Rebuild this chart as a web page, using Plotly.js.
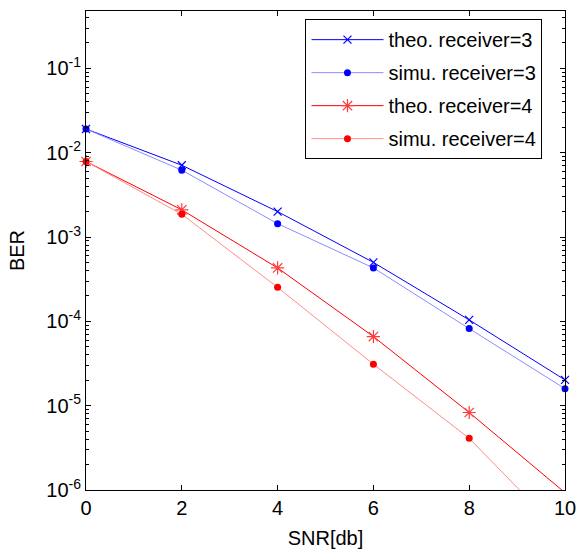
<!DOCTYPE html>
<html>
<head>
<meta charset="utf-8">
<script src="https://cdn.plot.ly/plotly-3.0.1.min.js"></script>
<style>
  html, body { margin: 0; padding: 0; background: #ffffff; }
  #chart { width: 576px; height: 552px; }
</style>
</head>
<body>
<div id="chart"></div>
<script>
const snr = [0, 2, 4, 6, 8, 10];
const theo3 = [0.0191, 0.0071, 0.0020, 0.00050, 0.000104, 0.0000202];
const simu3 = [0.0191, 0.0062, 0.00144, 0.00043, 0.000082, 0.0000159];
const theo4 = [0.00786, 0.0021, 0.00043, 0.000066, 0.0000083, 0.00000093];
const simu4 = [0.00786, 0.00186, 0.000253, 0.000031, 0.0000041, 0.00000028];
const seriesNames = ['theo. receiver=3', 'simu. receiver=3', 'theo. receiver=4', 'simu. receiver=4'];
const xTickVals = [0, 2, 4, 6, 8, 10];
const yTickVals = [1e-6, 1e-5, 1e-4, 1e-3, 1e-2, 1e-1];
const yTickText = ['10<sup>-6</sup>', '10<sup>-5</sup>', '10<sup>-4</sup>', '10<sup>-3</sup>', '10<sup>-2</sup>', '10<sup>-1</sup>'];

// minor log ticks: 2..9 within each decade
const yMinorVals = [];
for (const d of yTickVals) {
  for (let m = 2; m <= 9; m++) yMinorVals.push(m * d);
}

const FONT = 'Arial, "Liberation Sans", sans-serif';

const traces = [
  {
    x: snr, y: theo3, name: seriesNames[0], mode: 'lines+markers',
    line: { color: '#0000ff', width: 1 },
    marker: { symbol: 'x-thin-open', size: 8, color: '#0000ff', line: { color: '#0000ff', width: 1.2 } },
    cliponaxis: false, legendgroup: 'a'
  },
  {
    x: snr, y: simu3, name: seriesNames[1], mode: 'lines+markers',
    line: { color: '#8c8cff', width: 1 },
    marker: { symbol: 'circle', size: 7, color: '#0000ff' },
    cliponaxis: false, legendgroup: 'b'
  },
  {
    x: snr, y: theo4, name: seriesNames[2], mode: 'lines+markers',
    line: { color: '#ff0000', width: 1 },
    marker: { symbol: 'asterisk-open', size: 11, color: '#ff3c3c', line: { color: '#ff3c3c', width: 1.2 } },
    cliponaxis: false, legendgroup: 'c'
  },
  {
    x: snr, y: simu4, name: seriesNames[3], mode: 'lines+markers',
    line: { color: '#ff8c8c', width: 1 },
    marker: { symbol: 'circle', size: 7, color: '#ff0000' },
    cliponaxis: false, legendgroup: 'd'
  }
];

const layout = {
  width: 576, height: 552,
  margin: { l: 86, r: 11, t: 11, b: 62 },
  paper_bgcolor: '#ffffff', plot_bgcolor: '#ffffff',
  font: { family: FONT, size: 20, color: '#000000' },
  showlegend: true,
  legend: {
    x: 0.953, xanchor: 'right', y: 0.983, yanchor: 'top',
    bgcolor: '#ffffff', bordercolor: '#000000', borderwidth: 1,
    font: { family: FONT, size: 20, color: '#000000' },
    itemwidth: 72, tracegroupgap: 4, traceorder: 'grouped'
  },
  xaxis: {
    range: [0, 10], tickmode: 'array', tickvals: xTickVals,
    showgrid: false, zeroline: false,
    showline: true, linecolor: '#000000', linewidth: 1, mirror: 'ticks',
    ticks: 'inside', ticklen: 5, tickcolor: '#000000',
    ticklabeloverflow: 'allow',
    tickfont: { family: FONT, size: 20 },
    title: { text: 'SNR[db]', font: { family: FONT, size: 20 }, standoff: 12 }
  },
  yaxis: {
    type: 'log', range: [-6, -0.32],
    tickmode: 'array', tickvals: yTickVals, ticktext: yTickText,
    showgrid: false, zeroline: false,
    showline: true, linecolor: '#000000', linewidth: 1, mirror: 'ticks',
    ticks: 'inside', ticklen: 5, tickcolor: '#000000',
    minor: { tickmode: 'array', tickvals: yMinorVals, ticks: 'inside', ticklen: 3, tickcolor: '#000000', showgrid: false },
    tickfont: { family: FONT, size: 20 },
    title: { text: 'BER', font: { family: FONT, size: 20 }, standoff: 16 }
  }
};

Plotly.newPlot('chart', traces, layout, { displayModeBar: false, staticPlot: true });
</script>
</body>
</html>
